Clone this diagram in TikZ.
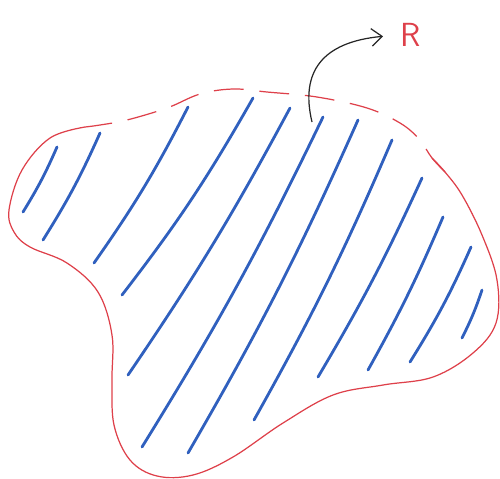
\documentclass[tikz,border=0pt]{standalone}
\usepackage{xcolor}
\usepackage{tikz}
\usetikzlibrary{arrows.meta}
\definecolor{hatchblue}{RGB}{48,96,190}
\definecolor{edgered}{RGB}{222,64,74}
\tikzset{
  bdry/.style={draw=edgered, line width=0.7pt},
  bdrydash/.style={bdry, dash pattern=on 17pt off 9pt},
  hatch/.style={draw=hatchblue, line width=1.6pt, line cap=round},
  pointer/.style={draw=black!85, line width=0.7pt, -{Straight Barb[length=6pt,width=10pt]}},
  lbl/.style={text=edgered, font=\fontsize{19}{21}\selectfont\sffamily, inner sep=2pt},
  sketch/.style={x=0.02cm, y=-0.02cm}
}

\begin{document}
\begin{tikzpicture}[sketch]
  \useasboundingbox (0,0) rectangle (500,478);

  % Region boundary - solid lower part
  \draw[bdry] plot[smooth, tension=0.6] coordinates {
    (85,127) (50,138) (22,170) (9,210) (14,232) (30,247) (67,263) (98,292)
    (112,335) (112,380) (114,425) (130,460) (157,476) (193,475) (233,457)
    (283,423) (333,395) (383,385) (433,377) (473,353) (496,323) (497,280)
    (482,235) (462,195) (445,172) (432,158)};

  % Region boundary - dashed upper part
  \draw[bdrydash] plot[smooth, tension=0.6] coordinates {
    (445,172) (432,158) (419,139) (400,123) (367,108) (317,97) (267,92) (233,89)
    (200,94) (167,108) (127,120) (100,125) (85,127)};

  % Hatching (blue)
  \draw[hatch] (57,147) to[bend left=4] (23,212);
  \draw[hatch] (100,133) to[bend left=4] (43,240);
  \draw[hatch] (188,107) to[bend left=4] (94,263);
  \draw[hatch] (253,98) to[bend left=4] (122,295);
  \draw[hatch] (290,108) to[bend left=3] (128,375);
  \draw[hatch] (323,117) to[bend left=3] (142,447);
  \draw[hatch] (358,120) to[bend left=3] (188,453);
  \draw[hatch] (392,140) to[bend left=3] (254,420);
  \draw[hatch] (422,178) to[bend left=3] (318,377);
  \draw[hatch] (443,217) to[bend left=3] (368,370);
  \draw[hatch] (471,247) to[bend left=4] (410,362);
  \draw[hatch] (482,290) to[bend left=4] (462,338);

  % Label and pointer
  \node[lbl] (R) at (411,35) {R};
  \coordinate (tail) at (312,122);
  \draw[pointer, shorten >=8pt] (tail) .. controls (300,72) and (322,42) .. (R.west);
\end{tikzpicture}
\end{document}
